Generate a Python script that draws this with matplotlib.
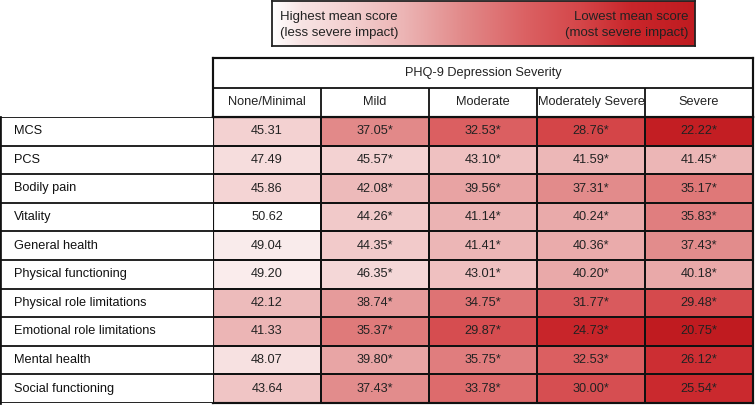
import numpy as np
import matplotlib as mpl
mpl.use("agg")
import matplotlib.pyplot as plt
from matplotlib.colors import LinearSegmentedColormap, Normalize

plt.rcParams["font.family"] = ["Liberation Sans", "DejaVu Sans"]

columns = ["None/Minimal", "Mild", "Moderate", "Moderately Severe", "Severe"]
rows = ["MCS", "PCS", "Bodily pain", "Vitality", "General health",
        "Physical functioning", "Physical role limitations",
        "Emotional role limitations", "Mental health", "Social functioning"]
none_min = [45.31, 47.49, 45.86, 50.62, 49.04, 49.20, 42.12, 41.33, 48.07, 43.64]
mild = [37.05, 45.57, 42.08, 44.26, 44.35, 46.35, 38.74, 35.37, 39.80, 37.43]
moderate = [32.53, 43.10, 39.56, 41.14, 41.41, 43.01, 34.75, 29.87, 35.75, 33.78]
mod_severe = [28.76, 41.59, 37.31, 40.24, 40.36, 40.20, 31.77, 24.73, 32.53, 30.00]
severe = [22.22, 41.45, 35.17, 35.83, 37.43, 40.18, 29.48, 20.75, 26.12, 25.54]
title = "PHQ-9 Depression Severity"
leg_left = "Highest mean score\n(less severe impact)"
leg_right = "Lowest mean score\n(most severe impact)"

vals = np.array([none_min, mild, moderate, mod_severe, severe]).T
# low score -> red, high score -> white
cmap = LinearSegmentedColormap.from_list(
    "rw", [(0, "#c01b20"), (0.15, "#c9262b"), (0.27, "#d44649"),
           (0.4, "#db6163"), (0.55, "#e28a8a"), (0.69, "#ecb5b5"),
           (0.82, "#f3d0d0"), (0.93, "#f7e3e3"), (1.0, "#ffffff")])
norm = Normalize(vmin=vals.min(), vmax=vals.max())

W, H = 755, 405
fig = plt.figure(figsize=(W / 100, H / 100), dpi=100)
fs = 9.2
lw = 1.3
edge = "#111111"

def fx(px):
    return px / W

def fy(py):
    return 1 - py / H

# main heatmap
top, bot, right = 117, 403, 753
ax = fig.add_axes([fx(213), fy(bot), fx(right - 213), (bot - top) / H])
ax.pcolormesh(vals, cmap=cmap, norm=norm, edgecolors=edge, linewidth=lw)
ax.set_xlim(0, 5)
ax.set_ylim(10, 0)
ax.set_xticks([])
ax.set_yticks([])
for s in ax.spines.values():
    s.set_linewidth(lw * 1.2)
    s.set_color(edge)
for i in range(vals.shape[0]):
    for j in range(vals.shape[1]):
        txt = "{:.2f}".format(vals[i, j]) + ("*" if j > 0 else "")
        ax.text(j + 0.5, i + 0.5, txt, ha="center", va="center",
                fontsize=fs, color="#222222")

# row labels column
axl = fig.add_axes([0, fy(bot), fx(213), (bot - top) / H])
axl.set_xlim(0, 1)
axl.set_ylim(10, 0)
axl.hlines(range(11), 0, 1, color=edge, linewidth=lw)
axl.set_xticks([])
axl.set_yticks([])
for k in ("top", "bottom", "right"):
    axl.spines[k].set_visible(False)
axl.spines["left"].set_linewidth(lw * 1.5)
axl.spines["left"].set_color(edge)
for i, r in enumerate(rows):
    axl.text(14 / 213, i + 0.5, r, ha="left", va="center", fontsize=fs, color="#111111")

# header
htop = 58
axh = fig.add_axes([fx(213), fy(top), fx(right - 213), (top - htop) / H])
axh.set_xlim(0, 5)
axh.set_ylim(2, 0)
axh.set_xticks([])
axh.set_yticks([])
for s in axh.spines.values():
    s.set_linewidth(lw * 1.2)
    s.set_color(edge)
axh.hlines(1, 0, 5, color=edge, linewidth=lw)
axh.vlines(range(1, 5), 1, 2, color=edge, linewidth=lw)
axh.text(2.5, 0.5, title, ha="center", va="center", fontsize=fs, color="#222222")
for j, c in enumerate(columns):
    axh.text(j + 0.5, 1.5, c, ha="center", va="center", fontsize=fs, color="#222222")

# gradient legend
axg = fig.add_axes([fx(272), fy(46), fx(695 - 272), 45 / H])
grad = np.linspace(vals.max(), vals.min(), 256).reshape(1, -1)
axg.imshow(grad, cmap=cmap, norm=norm, aspect="auto", extent=[0, 1, 0, 1])
axg.set_xticks([])
axg.set_yticks([])
for s in axg.spines.values():
    s.set_linewidth(lw)
    s.set_color("#222222")
axg.text(8 / 423, 0.47, leg_left, ha="left", va="center", fontsize=fs + 0.3,
         color="#222222", linespacing=1.5)
axg.text(1 - 7 / 423, 0.47, leg_right, ha="right", va="center", fontsize=fs + 0.3,
         color="#222222", linespacing=1.5)

fig.savefig("out.png", dpi=100)
